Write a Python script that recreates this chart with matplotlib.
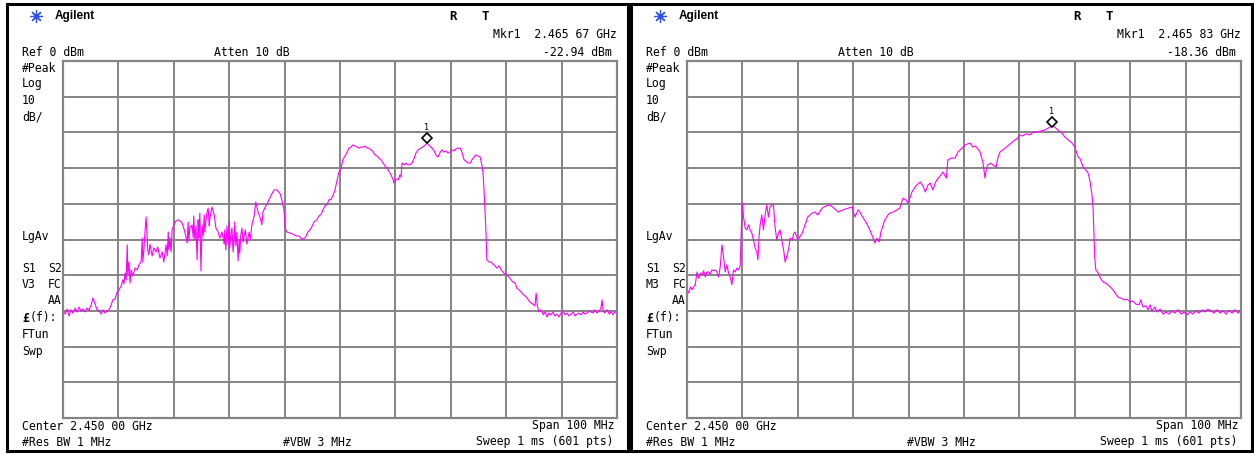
import numpy as np
import matplotlib
matplotlib.use('Agg')
from matplotlib import pyplot as plt
from matplotlib import patches, transforms

W = 1254
H = 455

# trace readings: MHz above 2.400 GHz start, level in dBm
left_mhz = [0.0, 0.4, 0.7, 1.1, 1.4, 1.8, 2.2, 2.5, 2.9, 3.2, 3.6, 4.0, 4.3, 4.7, 5.1, 5.4, 5.8, 6.1, 6.5, 6.9,
            7.2, 7.6, 7.9, 8.3, 8.7, 9.0, 9.4, 9.7, 10.1, 10.5, 10.8, 11.0, 11.2, 11.4, 11.6, 11.7, 11.9, 12.1, 12.3, 12.6,
            13.0, 13.4, 13.7, 14.1, 14.3, 14.4, 14.6, 14.8, 15.0, 15.2, 15.3, 15.5, 15.7, 16.1, 16.4, 16.8, 17.1, 17.5, 17.9, 18.2,
            18.6, 18.8, 19.0, 19.1, 19.3, 19.5, 19.7, 20.0, 20.4, 20.8, 21.1, 21.5, 21.8, 22.2, 22.4, 22.6, 22.7, 22.9, 23.3, 23.5,
            23.6, 23.8, 24.0, 24.2, 24.4, 24.5, 24.7, 24.9, 25.1, 25.3, 25.5, 25.6, 25.8, 26.0, 26.2, 26.4, 26.5, 26.9, 27.3, 27.6,
            28.0, 28.3, 28.7, 29.1, 29.2, 29.4, 29.6, 29.8, 30.0, 30.1, 30.3, 30.5, 30.7, 30.9, 31.0, 31.2, 31.4, 31.6, 31.8, 31.9,
            32.1, 32.3, 32.5, 32.9, 33.2, 33.6, 33.8, 34.1, 34.5, 34.8, 35.2, 35.6, 35.9, 36.1, 36.5, 37.0, 37.5, 38.1, 38.6, 39.2,
            39.5, 39.9, 40.1, 40.4, 41.0, 41.5, 42.1, 42.6, 43.1, 43.7, 44.2, 44.8, 45.3, 45.8, 46.2, 46.6, 46.9, 47.3, 47.7, 48.0,
            48.4, 48.7, 49.1, 49.5, 49.8, 50.2, 50.5, 50.9, 51.3, 51.6, 52.0, 52.3, 52.7, 53.1, 53.4, 53.8, 54.2, 54.5, 54.9, 55.2,
            55.6, 56.0, 56.3, 56.7, 57.0, 57.4, 57.8, 58.1, 58.5, 58.8, 59.2, 59.6, 59.7, 60.1, 60.5, 60.8, 61.0, 61.2, 61.6, 61.9,
            62.3, 62.6, 63.0, 63.4, 63.7, 64.1, 64.6, 65.2, 65.7, 66.2, 66.6, 67.0, 67.3, 67.7, 68.1, 68.4, 68.8, 69.1, 69.5, 69.9,
            70.2, 70.6, 70.9, 71.3, 71.7, 72.0, 72.4, 72.7, 73.1, 73.5, 73.8, 74.2, 74.5, 74.9, 75.3, 75.6, 75.8, 76.0, 76.2, 76.4,
            76.5, 76.9, 77.3, 77.6, 78.0, 78.3, 78.7, 79.1, 79.4, 79.8, 80.1, 80.5, 80.9, 81.2, 81.6, 81.9, 82.3, 82.7, 83.0, 83.4,
            83.8, 84.1, 84.5, 84.8, 85.2, 85.4, 85.6, 85.9, 86.3, 86.7, 87.0, 87.4, 87.7, 88.1, 88.4, 88.8, 89.2, 89.5, 89.9, 90.3,
            90.6, 91.0, 91.3, 91.7, 92.1, 92.4, 92.8, 93.1, 93.5, 93.9, 94.2, 94.6, 95.0, 95.3, 95.7, 96.0, 96.4, 96.8, 97.1, 97.3,
            97.5, 97.8, 98.2, 98.6, 98.9, 99.3, 99.6, 100.0]
left_dbm = [-70.0, -70.9, -69.5, -71.4, -69.7, -70.6, -69.2, -70.3, -68.9, -70.0, -69.5, -70.3, -69.2, -69.7, -68.3, -66.4, -68.1, -69.5, -70.0, -70.9,
            -69.7, -70.6, -70.0, -69.7, -68.3, -66.9, -66.7, -65.0, -64.1, -63.0, -61.3, -62.5, -59.4, -61.3, -51.5, -59.9, -56.3, -62.2, -58.5, -60.2,
            -58.0, -58.5, -57.1, -56.3, -49.6, -56.3, -52.9, -47.9, -43.7, -50.1, -52.9, -54.3, -51.3, -54.6, -52.4, -53.5, -52.1, -55.2, -53.5, -56.3,
            -51.5, -54.6, -47.9, -52.9, -49.6, -53.5, -47.3, -45.9, -44.8, -44.5, -44.8, -45.4, -46.8, -49.3, -51.0, -45.1, -50.4, -46.8, -45.9, -49.6,
            -43.4, -50.1, -46.2, -55.7, -44.5, -49.6, -42.6, -58.8, -45.9, -49.0, -43.1, -47.9, -44.8, -42.3, -41.2, -46.2, -44.0, -40.9, -43.1, -46.8,
            -47.9, -49.6, -47.9, -51.3, -47.3, -52.9, -46.2, -51.5, -44.8, -52.4, -48.7, -46.8, -53.5, -50.1, -45.1, -51.8, -47.9, -56.0, -50.1, -53.8,
            -48.7, -46.8, -50.7, -47.3, -51.3, -47.9, -50.1, -45.9, -43.4, -39.5, -42.3, -44.0, -45.9, -42.3, -40.9, -39.5, -37.8, -36.1, -36.1, -37.2,
            -38.9, -41.7, -46.8, -47.9, -48.2, -48.5, -49.0, -49.0, -49.9, -49.6, -47.9, -46.8, -45.1, -44.5, -43.4, -42.9, -41.7, -40.6, -40.1, -38.9,
            -38.7, -37.8, -36.1, -33.3, -31.1, -30.0, -27.7, -26.6, -25.5, -24.4, -24.1, -23.5, -23.8, -24.1, -24.4, -24.1, -24.1, -23.8, -24.4, -24.4,
            -24.9, -25.5, -26.3, -26.6, -27.2, -27.7, -28.6, -29.4, -30.0, -30.8, -31.9, -33.3, -34.2, -33.1, -33.3, -31.9, -32.5, -28.6, -29.1, -28.6,
            -29.1, -29.1, -28.6, -27.2, -25.8, -24.9, -24.4, -23.8, -23.0, -23.8, -24.4, -25.2, -26.3, -26.9, -25.5, -24.9, -25.5, -25.2, -25.8, -25.5,
            -24.9, -25.2, -24.6, -24.4, -24.4, -25.5, -27.7, -28.0, -28.6, -28.6, -27.7, -26.9, -26.3, -26.6, -26.9, -29.1, -31.1, -36.1, -42.6, -50.1,
            -55.7, -56.3, -56.3, -56.9, -57.4, -58.0, -57.4, -58.5, -59.1, -59.7, -59.9, -60.5, -61.3, -61.9, -62.2, -63.6, -64.1, -64.7, -65.3, -65.8,
            -66.4, -67.2, -67.8, -68.1, -68.6, -65.0, -68.3, -70.3, -69.7, -71.1, -70.3, -71.7, -70.6, -71.1, -70.3, -71.4, -70.9, -71.7, -70.6, -70.0,
            -71.1, -70.6, -71.4, -70.9, -70.3, -71.4, -70.9, -70.6, -71.1, -70.3, -70.9, -70.6, -70.0, -70.3, -70.6, -69.7, -70.6, -70.0, -69.2, -66.9,
            -70.0, -70.6, -69.7, -70.9, -70.3, -71.1, -70.3, -70.6]

right_mhz = [0.0, 0.3, 0.6, 0.9, 1.2, 1.5, 1.8, 2.1, 2.4, 2.7, 3.0, 3.3, 3.6, 3.9, 4.2, 4.5, 4.8, 5.1, 5.4, 5.7,
             6.0, 6.3, 6.6, 6.9, 7.2, 7.5, 7.8, 8.1, 8.4, 8.7, 9.0, 9.3, 9.6, 9.8, 10.0, 10.2, 10.5, 10.8, 11.1, 11.4,
             11.7, 12.0, 12.3, 12.6, 12.8, 13.0, 13.2, 13.5, 13.8, 14.1, 14.4, 14.7, 15.0, 15.3, 15.6, 15.9, 16.2, 16.5, 16.8, 17.1,
             17.5, 17.7, 18.1, 18.4, 18.6, 19.0, 19.3, 19.5, 20.0, 20.8, 21.3, 21.8, 22.6, 23.1, 23.6, 24.4, 25.1, 25.8, 26.5, 27.3,
             28.2, 29.1, 29.8, 30.3, 30.9, 31.2, 31.8, 32.3, 33.0, 33.6, 33.9, 34.3, 34.7, 35.0, 35.7, 36.3, 36.6, 37.2, 37.9, 38.4,
             39.0, 39.5, 39.9, 40.3, 40.6, 41.3, 42.1, 42.6, 43.0, 43.5, 43.9, 44.4, 44.8, 45.1, 45.7, 46.2, 46.8, 47.1, 47.7, 48.4,
             48.9, 49.6, 50.2, 50.7, 51.1, 51.6, 52.0, 52.5, 52.9, 53.4, 53.8, 54.0, 54.3, 54.9, 55.2, 55.8, 56.1, 56.5, 57.0, 57.4,
             57.9, 58.5, 59.2, 59.7, 60.1, 60.6, 61.2, 61.9, 62.5, 63.2, 63.9, 64.6, 65.2, 65.9, 66.4, 66.9, 67.7, 68.2, 68.8, 69.5,
             70.0, 70.6, 70.9, 71.5, 72.0, 72.4, 72.7, 73.1, 73.3, 73.5, 73.6, 73.8, 74.2, 74.5, 75.1, 75.6, 76.4, 76.9, 77.4, 77.8,
             78.3, 78.9, 79.4, 80.0, 80.5, 81.0, 81.6, 81.9, 82.3, 82.9, 83.2, 83.6, 83.9, 84.5, 84.8, 85.4, 85.9, 86.5, 87.0, 87.5,
             88.1, 88.6, 89.2, 89.7, 90.3, 90.8, 91.3, 91.9, 92.4, 93.0, 93.5, 94.0, 94.6, 95.1, 95.7, 96.2, 96.8, 97.3, 97.8, 98.4,
             98.9, 99.5, 100.0]
right_dbm = [-64.1, -65.0, -63.3, -64.1, -63.3, -62.7, -59.1, -60.8, -59.4, -59.9, -58.8, -60.5, -59.1, -59.1, -59.7, -58.5, -58.8, -58.5, -59.1, -60.5,
             -57.7, -51.5, -54.9, -59.1, -57.1, -59.4, -60.5, -62.7, -58.5, -59.1, -58.0, -58.5, -57.4, -47.3, -39.8, -43.7, -46.8, -47.3, -45.9, -47.3,
             -48.2, -50.1, -52.4, -53.5, -55.7, -49.3, -45.9, -43.1, -47.3, -43.1, -40.3, -43.7, -40.9, -40.3, -40.3, -46.5, -50.1, -48.2, -47.3, -50.1,
             -53.5, -56.3, -54.3, -52.1, -49.6, -50.1, -48.2, -47.9, -50.1, -48.2, -45.9, -43.7, -42.6, -42.3, -43.1, -41.2, -40.6, -40.3, -41.2, -42.3,
             -41.7, -41.2, -40.9, -43.7, -41.7, -42.3, -44.0, -45.1, -47.3, -49.6, -51.0, -49.6, -50.7, -47.9, -44.5, -43.1, -42.6, -42.3, -41.7, -41.2,
             -38.4, -38.9, -39.8, -38.1, -36.7, -35.0, -33.9, -35.0, -36.7, -34.7, -34.2, -36.1, -34.2, -33.3, -32.2, -31.1, -32.8, -27.7, -27.2, -27.2,
             -25.5, -24.4, -23.5, -23.2, -23.0, -24.1, -23.8, -24.6, -25.5, -28.3, -32.8, -30.5, -29.1, -28.6, -29.1, -29.7, -27.2, -25.5, -24.9, -24.4,
             -23.8, -23.0, -22.1, -21.6, -20.7, -21.0, -20.4, -20.7, -19.9, -19.9, -19.6, -19.3, -18.8, -18.2, -18.5, -19.3, -20.2, -21.3, -22.1, -23.0,
             -24.1, -26.9, -27.2, -29.7, -30.5, -31.4, -33.3, -37.5, -40.9, -50.1, -55.2, -58.5, -59.4, -60.5, -61.9, -62.2, -63.3, -64.1, -65.3, -66.1,
             -66.4, -66.9, -66.7, -67.5, -67.2, -68.1, -68.3, -66.9, -68.9, -68.6, -69.7, -68.3, -70.0, -68.9, -70.3, -69.5, -70.9, -70.3, -70.9, -70.0,
             -70.6, -69.7, -70.9, -70.3, -71.1, -70.3, -70.9, -70.0, -70.6, -69.7, -70.3, -69.5, -70.0, -70.6, -69.7, -70.6, -70.0, -70.9, -70.0, -70.6,
             -69.7, -70.6, -69.5]

marker_mhz = [65.67, 65.83]
marker_dbm = [-22.94, -18.36]
marker_text = ['Mkr1  2.465 67 GHz', 'Mkr1  2.465 83 GHz']
marker_level_text = ['-22.94 dBm', '-18.36 dBm']
mode_text = ['V3', 'M3']

MONO = 'DejaVu Sans Mono'
FS = 8.3

fig = plt.figure(figsize=(W / 100, H / 100), dpi=100)


def ftext(x, y, s, ha='left', **kw):
    kw.setdefault('family', MONO)
    kw.setdefault('fontsize', FS)
    fig.text(x / W, 1 - y / H, s, ha=ha, va='center', **kw)


def panel(dx, mhz, dbm, i):
    # outer frame
    fig.patches.append(patches.Rectangle(((7 + dx) / W, 1 - 451 / H), 621 / W, 447 / H,
                                         transform=fig.transFigure, fill=False,
                                         edgecolor='black', linewidth=2.2))
    ax = fig.add_axes([(63 + dx) / W, 1 - 418 / H, 554 / W, 357 / H])
    ax.set_xlim(0, 100)
    ax.set_ylim(-100, 0)
    ax.set_xticks(np.arange(0, 101, 10))
    ax.set_yticks(np.arange(-100, 1, 10))
    ax.tick_params(length=0, labelbottom=False, labelleft=False)
    ax.grid(True, color='#858585', linewidth=1.4)
    for s in ax.spines.values():
        s.set_color('#858585')
        s.set_linewidth(1.6)
    ax.plot(mhz, dbm, color='#ff00ff', linewidth=0.8, clip_on=False)
    off = transforms.offset_copy(ax.transData, fig, x=0, y=5, units='dots')
    ax.plot(marker_mhz[i], marker_dbm[i], marker='D', ms=5.5, mfc='white', mec='black',
            mew=1.2, transform=off, clip_on=False)
    off2 = transforms.offset_copy(ax.transData, fig, x=0, y=15, units='dots')
    ax.text(marker_mhz[i], marker_dbm[i], '1', transform=off2, ha='center', va='center',
            family=MONO, fontsize=6)

    # header
    fig.lines.append(plt.Line2D([(36 + dx) / W], [1 - 16 / H], marker=(8, 2, 0), ms=9,
                                mec='#3050e0', mew=0.9, transform=fig.transFigure))
    ftext(55 + dx, 16, 'Agilent', family='Liberation Sans', fontsize=8.5, fontweight='bold')
    ftext(453 + dx, 16, 'R', ha='center', fontweight='bold', fontsize=9)
    ftext(485 + dx, 16, 'T', ha='center', fontweight='bold', fontsize=9)
    ftext(617 + dx, 34, marker_text[i], ha='right')
    ftext(612 + dx, 52, marker_level_text[i], ha='right')
    ftext(22 + dx, 52, 'Ref 0 dBm')
    ftext(214 + dx, 52, 'Atten 10 dB')

    # left annotations
    ftext(22 + dx, 68, '#Peak')
    ftext(22 + dx, 84, 'Log')
    ftext(22 + dx, 101, '10')
    ftext(22 + dx, 117, 'dB/')
    ftext(22 + dx, 236, 'LgAv')
    ftext(22 + dx, 268, 'S1')
    ftext(62 + dx, 268, 'S2', ha='right')
    ftext(22 + dx, 285, mode_text[i])
    ftext(62 + dx, 285, 'FC', ha='right')
    ftext(62 + dx, 301, 'AA', ha='right')
    ftext(22 + dx, 318, '\u00a3', fontweight='bold')
    ftext(30 + dx, 318, '(f):')
    ftext(22 + dx, 335, 'FTun')
    ftext(22 + dx, 352, 'Swp')

    # footer
    ftext(22 + dx, 427, 'Center 2.450 00 GHz')
    ftext(614 + dx, 426, 'Span 100 MHz', ha='right')
    ftext(22 + dx, 443, '#Res BW 1 MHz')
    ftext(283 + dx, 443, '#VBW 3 MHz')
    ftext(614 + dx, 442, 'Sweep 1 ms (601 pts)', ha='right')


panel(0, left_mhz, left_dbm, 0)
panel(624, right_mhz, right_dbm, 1)

fig.savefig('out.png', dpi=100)
